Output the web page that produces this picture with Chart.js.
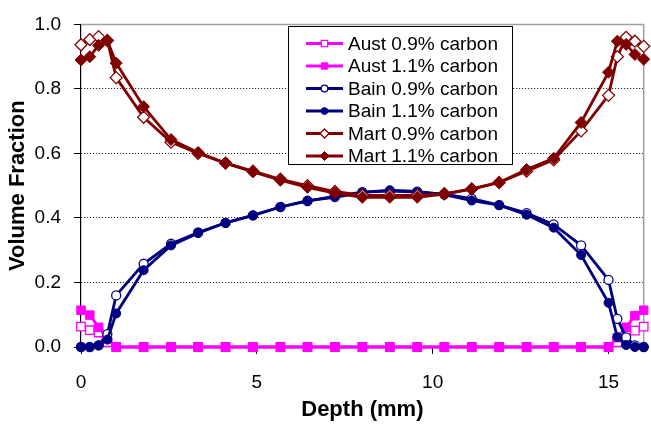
<!DOCTYPE html>
<html>
<head>
<meta charset="utf-8">
<script src="https://cdn.jsdelivr.net/npm/chart.js@4.4.1/dist/chart.umd.min.js"></script>
<style>
  html, body { margin: 0; padding: 0; background: #fff; }
  #chart { display: block; }
</style>
</head>
<body>
<canvas id="chart" width="651" height="425"></canvas>
<script>
// depth (mm) of each node, denser near both surfaces
const depth = [0, 0.25, 0.5, 0.75, 1.0, 1.78, 2.56, 3.33, 4.11, 4.89, 5.67, 6.44, 7.22, 8.0,
               8.78, 9.56, 10.33, 11.11, 11.89, 12.67, 13.44, 14.22, 15.0, 15.25, 15.5, 15.75, 16.0];

const aust09 = [0.063, 0.052, 0.045, 0.015, 0, 0, 0, 0, 0, 0, 0, 0, 0, 0,
                0, 0, 0, 0, 0, 0, 0, 0, 0, 0.015, 0.04, 0.051, 0.063];
const aust11 = [0.114, 0.099, 0.061, 0.026, 0, 0, 0, 0, 0, 0, 0, 0, 0, 0,
                0, 0, 0, 0, 0, 0, 0, 0, 0, 0.029, 0.061, 0.097, 0.114];
const bain09 = [0, 0, 0.005, 0.04, 0.16, 0.258, 0.32, 0.355, 0.385, 0.408, 0.434, 0.452, 0.468, 0.48,
                0.483, 0.48, 0.474, 0.46, 0.44, 0.415, 0.38, 0.315, 0.208, 0.087, 0.03, 0.005, 0];
const bain11 = [0, 0, 0.005, 0.023, 0.104, 0.238, 0.315, 0.353, 0.385, 0.408, 0.434, 0.454, 0.464, 0.479,
                0.486, 0.482, 0.472, 0.454, 0.44, 0.41, 0.37, 0.285, 0.137, 0.031, 0.006, 0, 0];
const mart09 = [0.937, 0.953, 0.962, 0.95, 0.835, 0.712, 0.635, 0.60, 0.57, 0.545, 0.52, 0.50, 0.482, 0.47,
                0.47, 0.47, 0.475, 0.49, 0.51, 0.545, 0.58, 0.67, 0.78, 0.90, 0.96, 0.948, 0.932];
const mart11 = [0.89, 0.90, 0.935, 0.95, 0.88, 0.745, 0.643, 0.603, 0.57, 0.543, 0.517, 0.495, 0.477, 0.464,
                0.464, 0.464, 0.474, 0.489, 0.51, 0.55, 0.585, 0.696, 0.852, 0.948, 0.938, 0.907, 0.892];

const seriesLabels = ['Aust 0.9% carbon', 'Aust 1.1% carbon', 'Bain 0.9% carbon',
                      'Bain 1.1% carbon', 'Mart 0.9% carbon', 'Mart 1.1% carbon'];
const seriesValues = [aust09, aust11, bain09, bain11, mart09, mart11];

const xTicks = [0, 5, 10, 15];
const yTicks = [0, 0.2, 0.4, 0.6, 0.8, 1.0];

const FONT = '"Liberation Sans", Arial, sans-serif';
const colors = ['#ff00ff', '#ff00ff', '#000080', '#000080', '#800000', '#800000'];
const shapes = ['rect', 'rect', 'circle', 'circle', 'rectRot', 'rectRot'];
const radii = [6, 6, 4.5, 4.5, 6, 6];
const hollow = [true, false, true, false, true, false];

const datasets = seriesValues.map((vals, i) => ({
    label: seriesLabels[i],
    data: vals.map((v, j) => ({ x: depth[j], y: v })),
    showLine: true,
    borderColor: colors[i],
    borderWidth: 2.8,
    pointStyle: shapes[i],
    pointRadius: radii[i],
    pointBackgroundColor: hollow[i] ? '#ffffff' : colors[i],
    pointBorderColor: colors[i],
    pointBorderWidth: hollow[i] ? 1.3 : 1,
    order: seriesValues.length - i,
    clip: false,
}));

// grey border on the top and right of the plot area
const plotFrame = {
    id: 'plotFrame',
    beforeDatasetsDraw(chart) {
        const { ctx, chartArea: a } = chart;
        ctx.save();
        ctx.strokeStyle = '#a0a0a0';
        ctx.lineWidth = 1.5;
        ctx.beginPath();
        ctx.moveTo(a.left, a.top);
        ctx.lineTo(a.right, a.top);
        ctx.lineTo(a.right, a.bottom);
        ctx.stroke();
        ctx.restore();
    },
};

// boxed legend sitting inside the plot, Excel style
const boxLegend = {
    id: 'boxLegend',
    afterDraw(chart) {
        const ctx = chart.ctx;
        const bx = 288.5, by = 26.5, bw = 224, bh = 138;
        ctx.save();
        ctx.fillStyle = '#fff';
        ctx.fillRect(bx, by, bw, bh);
        ctx.strokeStyle = '#000';
        ctx.lineWidth = 1;
        ctx.strokeRect(bx, by, bw, bh);
        ctx.font = '19px ' + FONT;
        ctx.textBaseline = 'middle';
        chart.data.datasets.forEach((ds, i) => {
            const ry = 43.5 + i * 22.5;
            ctx.strokeStyle = ds.borderColor;
            ctx.lineWidth = ds.borderWidth;
            ctx.beginPath();
            ctx.moveTo(306, ry);
            ctx.lineTo(343, ry);
            ctx.stroke();
            ctx.fillStyle = ds.pointBackgroundColor;
            ctx.strokeStyle = ds.pointBorderColor;
            ctx.lineWidth = ds.pointBorderWidth;
            Chart.helpers.drawPoint(ctx, {
                pointStyle: ds.pointStyle, radius: ds.pointRadius * 0.75,
                rotation: 0, borderWidth: ds.pointBorderWidth,
            }, 324.5, ry);
            ctx.fillStyle = '#000';
            ctx.fillText(ds.label, 348, ry + 1);
        });
        ctx.restore();
    },
};

new Chart(document.getElementById('chart'), {
    type: 'scatter',
    data: { datasets },
    options: {
        responsive: false,
        animation: false,
        layout: { padding: { top: 16, right: 3, left: 0, bottom: 0 } },
        plugins: { legend: { display: false }, tooltip: { enabled: false } },
        scales: {
            x: {
                type: 'linear',
                min: 0,
                max: 16,
                afterBuildTicks: s => { s.ticks = xTicks.map(v => ({ value: v })); },
                afterFit: s => { s.height = 78; },
                ticks: {
                    includeBounds: false,
                    padding: 17,
                    color: '#000',
                    font: { family: FONT, size: 19 },
                    maxRotation: 0,
                },
                grid: { drawOnChartArea: false, tickLength: 7, tickColor: '#000', tickWidth: 1 },
                border: { color: '#000', width: 1.2 },
                title: {
                    display: true,
                    text: 'Depth (mm)',
                    color: '#000',
                    font: { family: FONT, size: 22, weight: 'bold' },
                    padding: { top: 0, bottom: 2 },
                },
            },
            y: {
                min: 0,
                max: 1,
                afterBuildTicks: s => { s.ticks = yTicks.map(v => ({ value: v })); },
                afterFit: s => { s.width = 81; },
                ticks: {
                    padding: 13,
                    color: '#000',
                    font: { family: FONT, size: 19 },
                    callback: v => Number(v).toFixed(1),
                },
                grid: {
                    color: c => (c.tick && c.tick.value > 0 && c.tick.value < 1) ? '#000' : 'rgba(0,0,0,0)',
                    lineWidth: 1,
                    tickLength: 7,
                    tickColor: '#000',
                },
                border: { color: '#000', width: 1.2, dash: [1, 2] },
                title: {
                    display: true,
                    text: 'Volume Fraction',
                    color: '#000',
                    font: { family: FONT, size: 22, weight: 'bold' },
                    padding: { top: 5, bottom: 0 },
                },
            },
        },
    },
    plugins: [plotFrame, boxLegend],
});
</script>
</body>
</html>
